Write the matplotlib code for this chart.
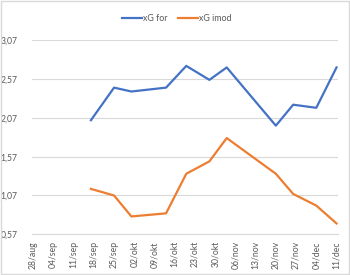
import numpy as np
import matplotlib
matplotlib.use("Agg")
import matplotlib.pyplot as plt
import matplotlib.dates as mdates
from matplotlib.patches import Rectangle

# match dates and expected goals
match_dates = np.array(["2022-09-17", "2022-09-25", "2022-10-01", "2022-10-13",
                        "2022-10-20", "2022-10-28", "2022-11-03", "2022-11-20",
                        "2022-11-26", "2022-12-04", "2022-12-11"], dtype="datetime64[D]")
xg_for = [2.04, 2.46, 2.41, 2.46, 2.74, 2.56, 2.72, 1.97, 2.24, 2.20, 2.72]
xg_imod = [1.155, 1.07, 0.80, 0.84, 1.35, 1.51, 1.81, 1.35, 1.09, 0.94, 0.71]

tick_dates = np.arange(np.datetime64("2022-08-28"), np.datetime64("2022-12-12"), 7)
tick_labels = ["28/aug", "04/sep", "11/sep", "18/sep", "25/sep", "02/okt", "09/okt",
               "16/okt", "23/okt", "30/okt", "06/nov", "13/nov", "20/nov", "27/nov",
               "04/dec", "11/dec"]
y_ticks = [0.57, 1.07, 1.57, 2.07, 2.57, 3.07]

text_col = "#595959"
grid_col = "#D9D9D9"
plt.rcParams["font.family"] = ["Lato", "DejaVu Sans"]

fig = plt.figure(figsize=(3.5, 2.75), dpi=100)
ax = fig.add_axes([0.0906, 0.148, 0.875, 0.7055])

x = mdates.date2num(match_dates)
ax.plot(x, xg_for, color="#4472C4", lw=1.6, label="xG for", solid_joinstyle="round")
ax.plot(x, xg_imod, color="#ED7D31", lw=1.6, label="xG imod", solid_joinstyle="round")

xt = mdates.date2num(tick_dates)
ax.set_xlim(xt[0] - 0.5, xt[-1] + 0.5)
ax.set_xticks(xt)
ax.set_xticklabels(tick_labels, rotation=90, fontsize=6.2, color=text_col)
ax.set_ylim(y_ticks[0], y_ticks[-1])
ax.set_yticks(y_ticks)
ax.set_yticklabels([f"{v:.2f}".replace(".", ",") for v in y_ticks], fontsize=6.2, color=text_col)
ax.tick_params(axis="x", length=0, pad=5)
ax.tick_params(axis="y", length=0, pad=10)

ax.grid(axis="y", color=grid_col, lw=0.8)
ax.set_axisbelow(True)
for s in ["top", "right", "left"]:
    ax.spines[s].set_visible(False)
ax.spines["bottom"].set_color(grid_col)
ax.spines["bottom"].set_linewidth(0.8)

fig.legend(loc="center", bbox_to_anchor=(0.505, 0.931), ncol=2, frameon=False,
           fontsize=6.4, handlelength=2.2, handletextpad=0.15, columnspacing=1.2,
           labelcolor=text_col)

# light chart border
fig.patches.append(Rectangle((0.002, 0.002), 0.995, 0.995, transform=fig.transFigure,
                             fill=False, edgecolor=grid_col, lw=1))

fig.savefig("out.png", dpi=100)
